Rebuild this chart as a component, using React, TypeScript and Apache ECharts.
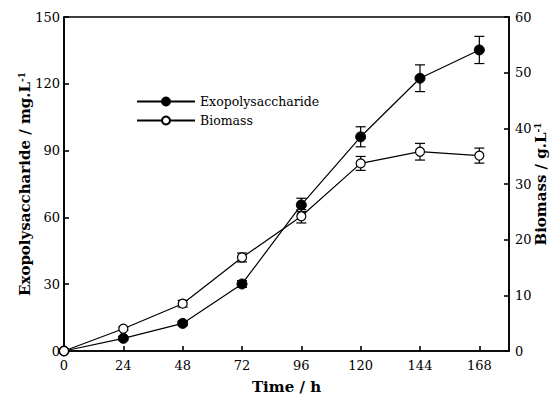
import React, { useEffect, useRef } from "react";
import * as echarts from "echarts";

const times = [0, 24, 48, 72, 96, 120, 144, 168];
const epsValues = [0, 5.7, 12.4, 30.1, 65.6, 96.2, 122.5, 135.2];
const epsErrors = [0.4, 0.8, 1.0, 1.5, 3.0, 4.5, 6.0, 6.1];
const biomassValues = [0, 4.0, 8.5, 16.8, 24.2, 33.7, 35.8, 35.1];
const biomassErrors = [0.2, 0.3, 0.6, 0.8, 1.2, 1.25, 1.5, 1.35];
const xTicks = [0, 24, 48, 72, 96, 120, 144, 168];

const FONT = "DejaVu Serif";

function errorSeries(name: string, values: number[], errors: number[], yAxisIndex: number) {
  return {
    type: "custom",
    name: name + "-err",
    yAxisIndex,
    silent: true,
    z: 3,
    data: times.map((t, i) => [t, values[i] - errors[i], values[i] + errors[i]]),
    renderItem: (params: any, api: any) => {
      const x = api.value(0);
      const lo = api.coord([x, api.value(1)]);
      const hi = api.coord([x, api.value(2)]);
      const w = 5;
      const st = { stroke: "#000", lineWidth: 1.2 };
      return {
        type: "group",
        children: [
          { type: "line", shape: { x1: lo[0], y1: lo[1], x2: hi[0], y2: hi[1] }, style: st },
          { type: "line", shape: { x1: lo[0] - w, y1: lo[1], x2: lo[0] + w, y2: lo[1] }, style: st },
          { type: "line", shape: { x1: hi[0] - w, y1: hi[1], x2: hi[0] + w, y2: hi[1] }, style: st },
        ],
      };
    },
  };
}

export default function App() {
  const ref = useRef<HTMLDivElement>(null);
  useEffect(() => {
    if (!ref.current) return;
    const chart = echarts.init(ref.current, null, { renderer: "svg" });
    const axisLine = { show: true, lineStyle: { color: "#000", width: 1.6 } };
    const axisTick = { show: true, inside: true, length: 5, lineStyle: { color: "#000", width: 1.6 } };
    const axisLabel = { color: "#000", fontFamily: FONT, fontSize: 13 };
    const nameStyle = {
      color: "#000",
      fontFamily: FONT,
      fontSize: 15,
      fontWeight: "bold",
      rich: {
        sup: { fontFamily: FONT, fontSize: 9, fontWeight: "bold", verticalAlign: "top", padding: [0, 0, 7, 0] },
      },
    };
    chart.setOption({
      animation: false,
      backgroundColor: "#fff",
      textStyle: { fontFamily: FONT },
      grid: {
        left: 64, right: 46, top: 17, bottom: 43,
        outerBoundsMode: "none",
        show: true, borderColor: "#000", borderWidth: 1.6, containLabel: false,
      },
      legend: {
        left: 131,
        top: 90,
        orient: "vertical",
        itemWidth: 58,
        itemHeight: 10,
        itemGap: 6,
        textStyle: { color: "#000", fontFamily: FONT, fontSize: 12.5 },
        data: ["Exopolysaccharide", "Biomass"],
      },
      xAxis: {
        type: "value",
        min: 0,
        max: 180,
        interval: 24,
        name: "Time / h",
        nameLocation: "middle",
        nameGap: 28,
        nameMoveOverlap: false,
        nameTextStyle: nameStyle,
        axisLine,
        axisTick,
        axisLabel: { ...axisLabel, margin: 8, showMaxLabel: false, formatter: (v: number) => (xTicks.includes(v) ? String(v) : "") },
        splitLine: { show: false },
      },
      yAxis: [
        {
          type: "value",
          min: 0,
          max: 150,
          interval: 30,
          position: "left",
          name: "Exopolysaccharide / mg.L{sup|-1}",
          nameLocation: "middle",
          nameRotate: 90,
          nameGap: 31,
          nameMoveOverlap: false,
          nameTextStyle: nameStyle,
          axisLine,
          axisTick,
          axisLabel: { ...axisLabel, margin: 4 },
          splitLine: { show: false },
        },
        {
          type: "value",
          min: 0,
          max: 60,
          interval: 10,
          position: "right",
          name: "Biomass / g.L{sup|-1}",
          nameLocation: "middle",
          nameRotate: 90,
          nameGap: 24,
          nameMoveOverlap: false,
          nameTextStyle: nameStyle,
          axisLine,
          axisTick,
          axisLabel: { ...axisLabel, margin: 6 },
          splitLine: { show: false },
        },
      ],
      series: [
        errorSeries("Exopolysaccharide", epsValues, epsErrors, 0),
        errorSeries("Biomass", biomassValues, biomassErrors, 1),
        {
          type: "line",
          name: "Exopolysaccharide",
          yAxisIndex: 0,
          data: times.map((t, i) => [t, epsValues[i]]),
          symbol: "circle",
          symbolSize: 10,
          lineStyle: { color: "#000", width: 1.2 },
          itemStyle: { color: "#000", borderColor: "#000", borderWidth: 1 },
          z: 4,
        },
        {
          type: "line",
          name: "Biomass",
          yAxisIndex: 1,
          data: times.map((t, i) => [t, biomassValues[i]]),
          symbol: "circle",
          symbolSize: 9,
          lineStyle: { color: "#000", width: 1.2 },
          itemStyle: { color: "#fff", borderColor: "#000", borderWidth: 1.2 },
          z: 5,
        },
      ],
    });
    return () => chart.dispose();
  }, []);
  return <div ref={ref} style={{ width: 555, height: 394, position: "absolute", left: 0, top: 0 }} />;
}
